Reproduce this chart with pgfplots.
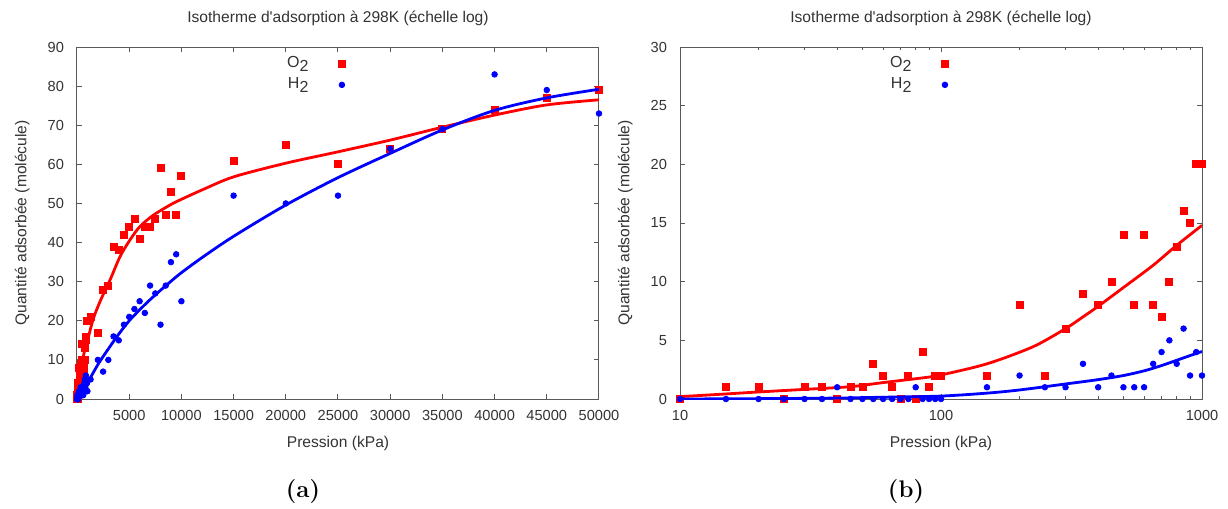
\documentclass[border=0pt]{standalone}
\usepackage{pgfplots}
\usepackage{pgfplotstable}
\pgfplotsset{compat=1.18}
\usepackage{fontspec}
\newfontfamily\lib{Liberation Sans}

% low-pressure data (shared by both panels)
\pgfplotstableread{
x o2 h2
10 0 0
15 1 0
20 1 0
25 0 0
30 1 0
35 1 0
40 0 1
45 1 0
50 1 0
55 3 0
60 2 0
65 1 0
70 0 0
75 2 0
80 0 1
85 4 0
90 1 0
95 2 0
100 2 0
150 2 1
200 8 2
250 2 1
300 6 1
350 9 3
400 8 1
450 10 2
500 14 1
550 8 1
600 14 1
650 8 3
700 7 4
750 10 5
800 13 3
850 16 6
900 15 2
950 20 4
1000 20 2
}\lowdata

% high-pressure data (left panel only)
\pgfplotstableread{
x o2 h2
1300 21 5
2000 17 10
2500 28 7
3000 29 10
3500 39 16
4000 38 15
4500 42 19
5000 44 21
5500 46 23
6000 41 25
6500 44 22
7000 44 29
7500 46 27
8000 59 19
8500 47 29
9000 53 35
9500 47 37
10000 57 25
15000 61 52
20000 65 50
25000 60 52
30000 64 64
35000 69 69
40000 74 83
45000 77 79
50000 79 73
}\highdata

% fitted curves
\pgfplotstableread{
x y
10 0.2
15 0.43
20 0.6
30 0.82
45 1.05
60 1.4
85 1.8
100 2.05
150 3.0
225 4.45
300 6.0
350 7.0
400 7.9
500 9.5
650 11.4
800 13.1
1000 14.8
}\fitOlow
\pgfplotstableread{
x y
1000 14.8
1560 20.5
2300 25.5
3160 30.4
4120 36.4
5080 40.7
6030 44.1
7310 47.0
8910 49.6
9870 50.9
12100 53.6
15000 56.8
20000 60.3
25000 63.2
30000 66.2
35000 69.5
40000 72.6
45000 75.2
50000 76.5
}\fitOhigh
\pgfplotstableread{
x y
10 0.0
20 0.03
40 0.08
60 0.15
100 0.25
150 0.5
200 0.77
300 1.28
400 1.65
500 2.0
600 2.4
700 2.85
800 3.3
900 3.7
1000 4.05
}\fitHlow
\pgfplotstableread{
x y
1000 4.05
2000 8.8
3000 12.8
4000 16.6
5000 20.0
6000 22.8
7000 25.4
8000 27.8
9000 30.1
10000 32.3
12000 36.2
15000 41.6
20000 49.6
25000 56.6
30000 62.8
35000 68.8
40000 73.8
45000 77.0
50000 79.2
}\fitHhigh

\definecolor{axgray}{gray}{0.35}
\definecolor{txt}{gray}{0.2}
\newcommand{\sub}[1]{\raisebox{-0.45ex}{#1}}

\pgfplotsset{
  panel/.style={
    scale only axis, width=261pt, height=176pt,
    axis line style={axgray, line width=0.5pt},
    every tick/.style={axgray, line width=0.5pt},
    major tick length=2.5pt, minor tick length=1.5pt,
    tick align=inside,
    scaled x ticks=false, scaled y ticks=false,
    font=\lib\fontsize{7.8}{9}\selectfont,
    tick label style={font=\lib\fontsize{7.3}{8.4}\selectfont, text=txt},
    /pgf/number format/assume math mode=true,
    yticklabel style={xshift=-3pt},
    xticklabel style={yshift=-2pt},
    title style={at={(axis description cs:0.5,1.08)}, anchor=center, yshift=-6pt, text=txt, font=\lib\fontsize{7.8}{9}\selectfont},
    xlabel style={at={(axis description cs:0.5,-0.125)}, anchor=center, text=txt},
    ylabel style={at={(axis description cs:-0.105,0.5)}, anchor=center, rotate=0, text=txt},
    title={Isotherme d'adsorption à 298K (échelle log)},
    xlabel={Pression (kPa)},
    ylabel={Quantité adsorbée (molécule)},
    clip mode=individual,
    legend plot pos=right,
    legend cell align=right,
    legend style={draw=none, fill=none, inner sep=0pt, row sep=-0.5pt,
      font=\lib\fontsize{8}{9}\selectfont, text=txt,
      /tikz/every odd column/.append style={column sep=13pt}},
  },
  o2mark/.style={only marks, mark=square*, mark size=1.75pt, color=red},
  h2mark/.style={only marks, mark=*, mark size=1.4pt, color=blue},
  o2fit/.style={no marks, smooth, red, line width=1.4pt, forget plot},
  h2fit/.style={no marks, smooth, blue, line width=1.4pt, forget plot},
}

\begin{document}
\begin{tikzpicture}
\path[use as bounding box] (-38.5pt,-55pt) rectangle (575.5pt,199.5pt);

\begin{axis}[panel,
  at={(0pt,0pt)}, anchor=south west,
  xmin=0, xmax=50000, ymin=0, ymax=90,
  xtick={5000,10000,15000,20000,25000,30000,35000,40000,45000,50000},
  xticklabels={5000,10000,15000,20000,25000,30000,35000,40000,45000,50000},
  ytick={0,10,20,30,40,50,60,70,80,90},
  legend style={at={(rel axis cs:0.515,0.985)}, anchor=north east},
]
\addplot[o2mark] table[x=x, y=o2] {\lowdata};
\addlegendentry{O\sub{2}}
\addplot[o2mark, forget plot] table[x=x, y=o2] {\highdata};
\addplot[o2fit] table[x=x, y=y] {\fitOlow};
\addplot[o2fit] table[x=x, y=y] {\fitOhigh};
\addplot[h2mark] table[x=x, y=h2] {\lowdata};
\addlegendentry{H\sub{2}}
\addplot[h2mark, forget plot] table[x=x, y=h2] {\highdata};
\addplot[h2fit] table[x=x, y=y] {\fitHlow};
\addplot[h2fit] table[x=x, y=y] {\fitHhigh};
\end{axis}

\begin{axis}[panel,
  at={(301.5pt,0pt)}, anchor=south west,
  xmode=log, xmin=10, xmax=1000, ymin=0, ymax=30,
  xtick={10,100,1000}, xticklabels={10,100,1000},
  minor xtick={20,30,40,50,60,70,80,90,200,300,400,500,600,700,800,900},
  ytick={0,5,10,15,20,25,30},
  legend style={at={(rel axis cs:0.515,0.985)}, anchor=north east},
]
\addplot[o2mark] table[x=x, y=o2] {\lowdata};
\addlegendentry{O\sub{2}}
\addplot[o2fit] table[x=x, y=y] {\fitOlow};
\addplot[h2mark] table[x=x, y=h2] {\lowdata};
\addlegendentry{H\sub{2}}
\addplot[h2fit] table[x=x, y=y] {\fitHlow};
\end{axis}

\node[font=\bfseries\fontsize{12}{14}\selectfont] at (113pt,-46.5pt) {(a)};
\node[font=\bfseries\fontsize{12}{14}\selectfont] at (414.5pt,-46.5pt) {(b)};
\end{tikzpicture}
\end{document}
